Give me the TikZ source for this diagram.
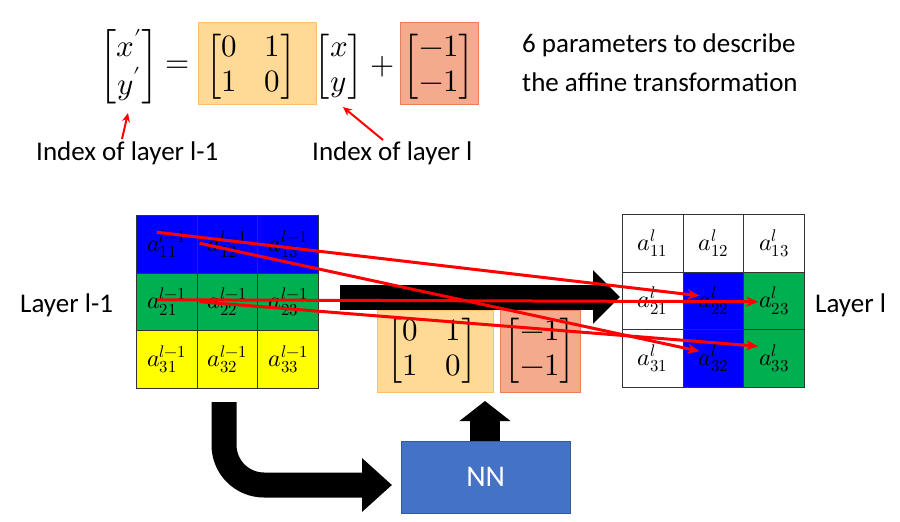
\documentclass[tikz,border=0pt]{standalone}
\usepackage{amsmath}
\usepackage{fontspec}
\usepackage{unicode-math}
\setmainfont{Carlito}
\setmathfont{Latin Modern Math}
\usetikzlibrary{arrows.meta}
\definecolor{myblue}{RGB}{0,0,255}
\definecolor{mygreen}{RGB}{0,176,80}
\definecolor{myyellow}{RGB}{255,255,0}
\definecolor{orbox}{RGB}{255,217,150}
\definecolor{orline}{RGB}{250,190,110}
\definecolor{sabox}{RGB}{244,170,140}
\definecolor{saline}{RGB}{237,125,90}
\definecolor{nnblue}{RGB}{68,114,196}
\begin{document}
\begin{tikzpicture}[x=1pt,y=-1pt,
  cell/.style={draw=black!80,line width=1pt,minimum width=60.7pt,minimum height=57.5pt,inner sep=0pt,anchor=north west,font=\fontsize{24}{28}\selectfont},
  eq/.style={font=\fontsize{31}{35}\selectfont,inner sep=0pt},
  lbl/.style={font=\fontsize{27}{32}\selectfont,inner sep=0pt},
  red arr/.style={red,line width=3pt,-{Stealth[length=12pt,width=10pt]}},
  obox/.style={fill=orbox,draw=orline,line width=1pt,inner sep=0pt,anchor=north west},
  sbox/.style={fill=sabox,draw=saline,line width=1pt,inner sep=0pt,anchor=north west}]
\useasboundingbox (0,0) rectangle (900,522);
% top equation
\node[obox,minimum width=118pt,minimum height=82pt] (ob1) at (198,22) {};
\node[sbox,minimum width=78pt,minimum height=82pt] (sb1) at (400,22) {};
\node[eq] (xp) at (129,67) {$\begin{bmatrix}x'\\ y'\end{bmatrix}$};
\node[eq] (eqs) at (178,67) {$=$};
\node[eq] (m1) at (251,67) {$\begin{bmatrix}0&\;\;1\\ 1&\;\;0\end{bmatrix}$};
\node[eq] (xy) at (339,67) {$\begin{bmatrix}x\\ y\end{bmatrix}$};
\node[eq] (pl) at (383,67) {$+$};
\node[eq] (b1) at (439,67) {$\begin{bmatrix}-1\\ -1\end{bmatrix}$};
\node[lbl,anchor=west] (t1) at (522,45) {6 parameters to describe};
\node[lbl,anchor=west] (t2) at (522,82) {the affine transformation};
\node[lbl,anchor=west] (i1) at (36,153) {Index of layer l-1};
\node[lbl,anchor=west] (i2) at (312,153) {Index of layer l};
\coordinate (c1) at (122,139); \coordinate (c1e) at (128,113);
\coordinate (c2) at (383,140); \coordinate (c2e) at (343,107);
\draw[red,line width=2pt,-{Stealth[length=9pt,width=8pt]}] (c1) -- (c1e);
\draw[red,line width=2pt,-{Stealth[length=9pt,width=8pt]}] (c2) -- (c2e);
% black horizontal arrow
\coordinate (h0) at (340,297); \coordinate (h1) at (620,297);
\draw[line width=25pt,-{Triangle[length=27pt,width=52pt]}] (h0) -- (h1);
% middle boxes
\node[obox,minimum width=116pt,minimum height=82pt] (ob2) at (377,310) {};
\node[sbox,minimum width=80pt,minimum height=82pt] (sb2) at (500,310) {};
\node[eq] (m2) at (432,351) {$\begin{bmatrix}0&\;\;1\\ 1&\;\;0\end{bmatrix}$};
\node[eq] (b2) at (540,351) {$\begin{bmatrix}-1\\ -1\end{bmatrix}$};
% left grid
\foreach \r/\col in {1/myblue,2/mygreen,3/myyellow}{
  \foreach \c in {1,2,3}{
    \node[cell,fill=\col] (L\r\c) at ({136+(\c-1)*60.7},{215+(\r-1)*57.5}) {$a_{\r\c}^{l-1}$};
  }}
% right grid
\foreach \r/\c/\col in {1/1/white,1/2/white,1/3/white,2/1/white,2/2/myblue,2/3/mygreen,3/1/white,3/2/myblue,3/3/mygreen}{
  \node[cell,fill=\col] (R\r\c) at ({622+(\c-1)*60.7},{214+(\r-1)*57.5}) {$a_{\r\c}^{l}$};
}
\node[lbl,anchor=west] (ll1) at (20,305) {Layer l-1};
\node[lbl,anchor=west] (ll2) at (815,305) {Layer l};
% red mapping arrows
\draw[red arr] ([shift={(-10,-12)}]L11.center) -- ([shift={(-14,-5)}]R22.center);
\draw[red arr] ([shift={(-28,-1)}]L12.center) -- ([shift={(-14,-7)}]R32.center);
\draw[red arr] ([shift={(-10,-2)}]L21.center) -- ([shift={(-16,1)}]R23.center);
\draw[red arr] ([shift={(-28,0)}]L22.center) -- ([shift={(-16,-12)}]R33.center);
% NN
\node[fill=nnblue,draw=nnblue!80!black,minimum width=169pt,minimum height=72pt,anchor=north west,text=white,font=\fontsize{30}{36}\selectfont] (nn) at (401,441) {NN};
\coordinate (up) at (485,401);
\draw[line width=30pt,-{Triangle[length=20pt,width=50pt]}] (nn.north -| up) -- (up);
\coordinate (cv0) at (224,402); \coordinate (cv1) at (224,485); \coordinate (cv2) at (392,485);
\draw[line width=25pt,rounded corners=40pt,-{Triangle[length=30pt,width=52pt]}] (cv0) -- (cv1) -- (cv2);
\end{tikzpicture}
\end{document}
